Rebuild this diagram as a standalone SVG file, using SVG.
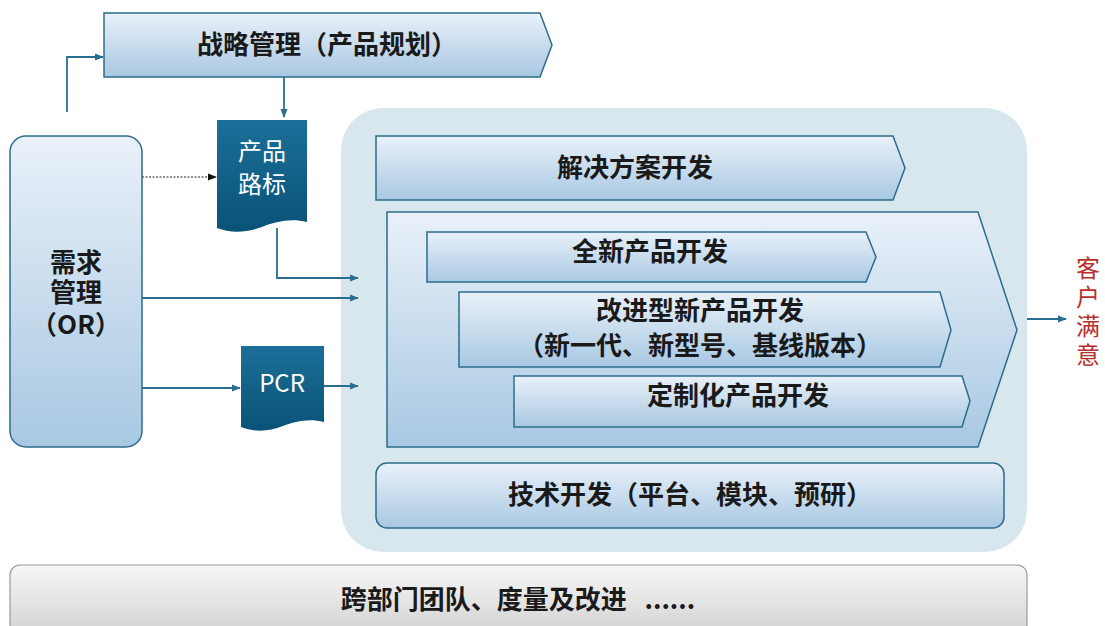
<svg xmlns="http://www.w3.org/2000/svg" width="1105" height="626" viewBox="0 0 1105 626">
<defs>
<linearGradient id="gBox" x1="0" y1="0" x2="0" y2="1">
<stop offset="0" stop-color="#e9f1f9"/>
<stop offset="1" stop-color="#a8c8e2"/>
</linearGradient>
<linearGradient id="gDoc" x1="0" y1="0" x2="0" y2="1">
<stop offset="0" stop-color="#1b6f98"/>
<stop offset="1" stop-color="#0a5277"/>
</linearGradient>
<linearGradient id="gGrey" x1="0" y1="0" x2="0" y2="1">
<stop offset="0" stop-color="#f7f7f7"/>
<stop offset="1" stop-color="#d2d2d2"/>
</linearGradient>
<marker id="ar" viewBox="0 0 10 10" refX="9" refY="5" markerWidth="9" markerHeight="9" orient="auto" markerUnits="userSpaceOnUse">
<path d="M0,1 L10,5 L0,9 z" fill="#2a6f8f"/>
</marker>
<marker id="arb" viewBox="0 0 10 10" refX="9" refY="5" markerWidth="9" markerHeight="9" orient="auto" markerUnits="userSpaceOnUse">
<path d="M0,1 L10,5 L0,9 z" fill="#111"/>
</marker>
<style>
.box{fill:url(#gBox);stroke:#2d6c8c;stroke-width:1.5}
.doc{fill:url(#gDoc)}
.t{font-family:"Noto Sans CJK SC","Noto Sans",sans-serif;font-weight:bold;font-size:26px;fill:#1a1a1a;text-anchor:middle}
.w{font-family:"Noto Sans CJK SC","Noto Sans",sans-serif;font-size:24px;fill:#ffffff;text-anchor:middle}
.r{font-family:"Noto Sans CJK SC",sans-serif;font-size:24px;fill:#b8302c;writing-mode:vertical-rl;letter-spacing:5px}
.c{fill:none;stroke:#2a6f8f;stroke-width:1.8}
</style>
</defs>

<g id="container">
<rect x="341" y="108" width="686" height="444" rx="42" fill="#d8e7ed"/>
</g>

<g id="strategy">
<path class="box" d="M104,13 H540 L552,45 L540,77 H104 Z"/>
<text class="t" x="327" y="54">战略管理（产品规划）</text>
</g>

<g id="demand">
<rect class="box" x="10" y="136" width="132" height="311" rx="16"/>
<text class="t" x="76" y="272">需求<tspan x="76" dy="30">管理</tspan><tspan x="76" dy="32">（OR）</tspan></text>
</g>

<g id="roadmap">
<path class="doc" d="M217,120 H307 V222 C290,218 275,222 262,227 C245,233 230,233 217,228 Z"/>
<text class="w" x="262" y="160">产品<tspan x="262" dy="33">路标</tspan></text>
</g>

<g id="pcr">
<path class="doc" d="M241,346 H324 V422 C308,418 295,422 283,426 C268,432 254,432 241,427 Z"/>
<text class="w" x="282" y="392">PCR</text>
</g>

<g id="solution">
<path class="box" d="M376,136 H893 L905,168 L893,200 H376 Z"/>
<text class="t" x="635" y="177">解决方案开发</text>
</g>

<g id="product-dev">
<path class="box" d="M387,212 H978 L1017,330 L978,447 H387 Z"/>
</g>

<g id="new-product">
<path class="box" d="M427,232 H866 L876,257 L866,282 H427 Z"/>
<text class="t" x="650" y="261">全新产品开发</text>
</g>

<g id="improved">
<path class="box" d="M459,292 H940 L951,330 L940,367 H459 Z"/>
<text class="t" x="700" y="320">改进型新产品开发<tspan x="700" dy="35">（新一代、新型号、基线版本）</tspan></text>
</g>

<g id="custom">
<path class="box" d="M514,376 H962 L970,401 L962,427 H514 Z"/>
<text class="t" x="738" y="405">定制化产品开发</text>
</g>

<g id="tech">
<rect class="box" x="376" y="463" width="628" height="65" rx="11"/>
<text class="t" x="690" y="504">技术开发（平台、模块、预研）</text>
</g>

<g id="team">
<rect x="10" y="565" width="1017" height="70" rx="10" fill="url(#gGrey)" stroke="#9a9a9a" stroke-width="1.2"/>
<text class="t" x="518" y="609" xml:space="preserve">跨部门团队、度量及改进   ......</text>
</g>

<g id="satisfaction">
<text class="r" x="1088" y="256">客户满意</text>
</g>

<g id="connectors">
<path class="c" d="M67,112 V57 H103" marker-end="url(#ar)"/>
<path class="c" d="M284,77 V117" marker-end="url(#ar)"/>
<path d="M142,177 H216" fill="none" stroke="#222" stroke-width="1.2" stroke-dasharray="2,1.5" marker-end="url(#arb)"/>
<path class="c" d="M277,228 V278 H358" marker-end="url(#ar)"/>
<path class="c" d="M142,298 H358" marker-end="url(#ar)"/>
<path class="c" d="M142,388 H240" marker-end="url(#ar)"/>
<path class="c" d="M324,386 H358" marker-end="url(#ar)"/>
<path class="c" d="M1027,319 H1066" marker-end="url(#ar)"/>
</g>
</svg>
